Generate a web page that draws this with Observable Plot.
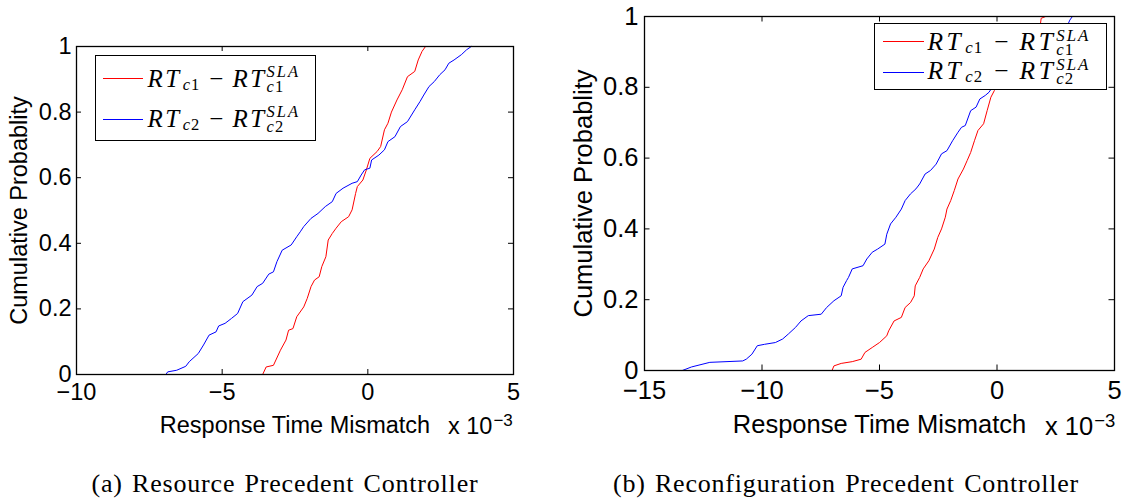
<!DOCTYPE html>
<html><head><meta charset="utf-8">
<script src="https://cdn.jsdelivr.net/npm/d3@7"></script>
<script src="https://cdn.jsdelivr.net/npm/@observablehq/plot@0.6"></script>
<style>
html,body{margin:0;padding:0;background:#fff;}
#root{position:relative;width:1132px;height:502px;overflow:hidden;background:#fff;}
.panel{position:absolute;top:0;}
.legend{position:absolute;background:#fff;border:1.5px solid #000;box-sizing:border-box;}
.sw{position:absolute;height:0;border-top:1.2px solid;}
.math{position:absolute;font-family:"Liberation Serif","Times New Roman",serif;white-space:nowrap;line-height:1;}
.math .it{font-style:italic;}
.math .rt{font-style:italic;}
.math .sb{position:relative;letter-spacing:1px;margin-left:1px;}
.math .stk{position:relative;display:inline-block;line-height:1;}
.math .stk .lo{position:absolute;left:0;letter-spacing:1px;}
.expo{position:absolute;font-family:"Liberation Sans",Arial,sans-serif;line-height:1;white-space:nowrap;}
.expo span{position:relative;top:-8px;margin-left:1px;}
.cap{position:absolute;font-family:"Liberation Serif","Times New Roman",serif;font-size:26px;line-height:1;letter-spacing:0.8px;word-spacing:2px;white-space:nowrap;text-align:center;}
</style>
</head><body>
<div id="root">
  <div id="pa" class="panel" style="left:0px"></div>
  <div id="pb" class="panel" style="left:560px"></div>
</div>
<script>
// ---------------- data ----------------
const yTicks = [0, 0.2, 0.4, 0.6, 0.8, 1];
const xTicksA = [-10, -5, 0, 5];
const xTicksB = [-15, -10, -5, 0, 5];
const seriesIds = ["c1", "c2"];
const seriesColors = ["#ff0000", "#0000ff"];
const xLabel = "Response Time Mismatch";
const yLabel = "Cumulative Probablity";
const xExponent = "\u22123";
const captions = ["(a) Resource Precedent Controller", "(b) Reconfiguration Precedent Controller"];

// Panel (a): x in units of 1e-3, p = cumulative probability
const aRedX = [-3.61,-3.49,-3.24,-3.00,-2.81,-2.72,-2.57,-2.44,-2.20,-2.08,-1.95,-1.83,-1.67,-1.58,-1.44,-1.36,-1.22,-1.09,-0.91,-0.66,-0.54,-0.42,-0.36,-0.17,-0.05,0.07,0.32,0.44,0.57,0.69,0.81,1.00,1.18,1.36,1.61,1.73,1.86,1.98];
const aRedP = [0,0.023,0.028,0.074,0.105,0.135,0.14,0.176,0.206,0.232,0.268,0.288,0.298,0.329,0.359,0.41,0.43,0.446,0.466,0.481,0.502,0.552,0.573,0.593,0.624,0.659,0.68,0.695,0.746,0.766,0.80,0.837,0.868,0.908,0.924,0.959,0.985,1.0];
const aBlueX = [-6.93,-6.87,-6.56,-6.25,-6.13,-5.82,-5.64,-5.45,-5.21,-5.12,-4.90,-4.68,-4.47,-4.29,-3.98,-3.80,-3.61,-3.40,-3.24,-3.12,-2.94,-2.63,-2.44,-2.32,-2.20,-1.95,-1.71,-1.46,-1.22,-1.09,-0.85,-0.54,-0.36,-0.23,-0.11,0.07,0.13,0.38,0.57,0.69,0.93,1.12,1.36,1.61,1.79,1.92,2.10,2.28,2.47,2.65,2.78,2.96,3.21,3.39,3.55];
const aBlueP = [0,0.008,0.013,0.025,0.039,0.064,0.09,0.12,0.13,0.148,0.156,0.171,0.186,0.222,0.242,0.268,0.278,0.306,0.313,0.344,0.379,0.395,0.42,0.435,0.451,0.476,0.491,0.512,0.527,0.552,0.568,0.583,0.588,0.608,0.624,0.629,0.654,0.669,0.685,0.71,0.725,0.756,0.771,0.807,0.832,0.852,0.878,0.893,0.914,0.929,0.949,0.959,0.975,0.99,1.0];

// Panel (b)
const bRedX = [-7.02,-6.94,-6.63,-6.16,-5.78,-5.62,-5.31,-5.00,-4.69,-4.61,-4.38,-4.07,-3.91,-3.68,-3.52,-3.48,-3.29,-3.14,-2.90,-2.67,-2.52,-2.36,-2.20,-2.13,-1.97,-1.82,-1.66,-1.43,-1.27,-1.12,-0.96,-0.81,-0.57,-0.42,-0.26,-0.11,0.20,0.70,1.30,1.70,1.85,1.88,2.07];
const bRedP = [0,0.013,0.02,0.025,0.032,0.051,0.065,0.079,0.098,0.112,0.14,0.15,0.178,0.192,0.211,0.239,0.263,0.287,0.31,0.343,0.376,0.40,0.433,0.456,0.48,0.508,0.541,0.569,0.593,0.616,0.649,0.678,0.697,0.734,0.772,0.791,0.83,0.88,0.93,0.96,0.98,0.995,1.0];
const bBlueX = [-13.39,-13.0,-12.22,-10.82,-10.67,-10.43,-10.2,-9.89,-9.43,-9.12,-8.88,-8.57,-8.34,-8.03,-7.48,-7.25,-6.94,-6.63,-6.55,-6.40,-6.32,-6.16,-5.70,-5.54,-5.31,-5.08,-4.77,-4.69,-4.53,-4.30,-4.07,-3.91,-3.68,-3.45,-3.29,-3.06,-2.83,-2.59,-2.36,-2.13,-1.89,-1.66,-1.51,-1.35,-1.12,-0.89,-0.73,-0.50,-0.34,-0.10,0.60,1.50,2.40,3.00,3.10,3.21];
const bBlueP = [0,0.01,0.023,0.027,0.032,0.046,0.07,0.074,0.079,0.089,0.103,0.122,0.14,0.155,0.159,0.178,0.197,0.211,0.235,0.254,0.263,0.287,0.296,0.315,0.334,0.343,0.357,0.385,0.414,0.433,0.456,0.48,0.499,0.513,0.527,0.555,0.565,0.583,0.612,0.621,0.649,0.673,0.687,0.692,0.734,0.744,0.767,0.777,0.786,0.81,0.86,0.91,0.945,0.975,0.99,1.0];

// ---------------- helpers ----------------
const toRows = (xs, ps) => xs.map((x, i) => ({x, p: ps[i]}));
const fmtX = d => d < 0 ? "\u2212" + Math.abs(d) : String(d);
const fmtY = d => String(d);

function drawPanel(o) {
  const iw = o.width - o.ml - o.mr, ih = o.height - o.mt - o.mb;
  return Plot.plot({
    width: o.width, height: o.height,
    marginTop: o.mt, marginRight: o.mr, marginBottom: o.mb, marginLeft: o.ml,
    x: {domain: o.xDomain, labelArrow: "none"},
    y: {domain: [0, 1], labelArrow: "none"},
    style: {fontFamily: '"Liberation Sans", Arial, sans-serif', fontSize: o.fs + "px", color: "#000", background: "transparent", overflow: "visible"},
    marks: [
      Plot.line(o.red, {x: "x", y: "p", stroke: seriesColors[0], strokeWidth: 1}),
      Plot.line(o.blue, {x: "x", y: "p", stroke: seriesColors[1], strokeWidth: 1}),
      Plot.tickX(o.xTicks, {x: d => d, insetTop: ih - o.tl, stroke: "#000"}),
      Plot.tickX(o.xTicks, {x: d => d, insetBottom: ih - o.tl, stroke: "#000"}),
      Plot.tickY(yTicks, {y: d => d, insetRight: iw - o.tl, stroke: "#000"}),
      Plot.tickY(yTicks, {y: d => d, insetLeft: iw - o.tl, stroke: "#000"}),
      Plot.axisX(o.xTicks, {anchor: "bottom", tickSize: 0, tickPadding: o.xPad, tickFormat: fmtX,
        label: xLabel, labelAnchor: "center", labelOffset: o.xLab, labelArrow: "none"}),
      Plot.axisY(yTicks, {anchor: "left", tickSize: 0, tickPadding: o.yPad, tickFormat: fmtY,
        label: yLabel, labelAnchor: "center", labelOffset: o.yLab, labelArrow: "none"}),
      Plot.frame({stroke: "#000", strokeWidth: 1.3})
    ]
  });
}

document.getElementById("pa").append(drawPanel({
  red: toRows(aRedX, aRedP), blue: toRows(aBlueX, aBlueP),
  xDomain: [-10, 5], xTicks: xTicksA,
  width: 560, height: 440, mt: 46, mr: 47, mb: 66, ml: 76,
  fs: 23.5, tl: 5, xPad: 9, yPad: 5, xLab: 58, yLab: 66
}));
document.getElementById("pb").append(drawPanel({
  red: toRows(bRedX, bRedP), blue: toRows(bBlueX, bBlueP),
  xDomain: [-15, 5], xTicks: xTicksB,
  width: 572, height: 440, mt: 16, mr: 18, mb: 70, ml: 84,
  fs: 25.5, tl: 5.5, xPad: 10, yPad: 6, xLab: 62, yLab: 71
}));

// ---------------- legends, exponent, captions ----------------
const root = document.getElementById("root");
function mathHTML(id, L) {
  const rt = `<span class="rt" style="letter-spacing:${L.ls}px">RT</span>`;
  const c = `<span class="it">${id[0]}</span>${id.slice(1)}`;
  return rt + `<span class="sb" style="font-size:0.66em;top:${L.sub}px">${c}</span>` +
    `<span style="margin:0 ${L.m}px">\u2212</span>` + rt +
    `<span class="stk" style="font-size:0.66em"><span class="it" style="position:relative;top:${L.sup}px;letter-spacing:2px">SLA</span>` +
    `<span class="lo" style="top:${L.lo}px">${c}</span></span>`;
}
function addLegend(L) {
  const box = document.createElement("div");
  box.className = "legend";
  Object.assign(box.style, {left: L.left + "px", top: L.top + "px", width: L.w + "px", height: L.h + "px"});
  seriesIds.forEach((id, i) => {
    const sw = document.createElement("div");
    sw.className = "sw";
    Object.assign(sw.style, {left: L.swL + "px", top: L.swT[i] + "px", width: L.swW + "px", borderTopColor: seriesColors[i]});
    box.append(sw);
    const t = document.createElement("div");
    t.className = "math";
    Object.assign(t.style, {left: L.txL + "px", top: L.txT[i] + "px", fontSize: L.fs + "px"});
    t.innerHTML = mathHTML(id, L);
    box.append(t);
  });
  root.append(box);
}
addLegend({left: 95, top: 55, w: 221, h: 86, swL: 6.5, swW: 40, swT: [21.5, 62.5], txL: 51.5, txT: [9.5, 50], fs: 25, ls: 2.5, m: 9, sub: 3, sup: -10, lo: 5});
addLegend({left: 874, top: 23, w: 233, h: 67, swL: 7.5, swW: 41, swT: [16.5, 48], txL: 52.5, txT: [5, 34], fs: 25.5, ls: 3.5, m: 11, sub: 3, sup: -9, lo: 4.5});

function addExpo(left, top, fs, efs) {
  const d = document.createElement("div");
  d.className = "expo";
  Object.assign(d.style, {left: left + "px", top: top + "px", fontSize: fs + "px"});
  d.innerHTML = `x 10<span style="font-size:${efs}px">${xExponent}</span>`;
  root.append(d);
}
addExpo(448, 415, 23.5, 17);
addExpo(1045, 413.5, 25.5, 18.5);

function addCaption(text, cx, top) {
  const d = document.createElement("div");
  d.className = "cap";
  Object.assign(d.style, {left: (cx - 300) + "px", top: top + "px", width: "600px"});
  d.textContent = text;
  root.append(d);
}
addCaption(captions[0], 285, 471);
addCaption(captions[1], 846, 471);
</script>
</body></html>
